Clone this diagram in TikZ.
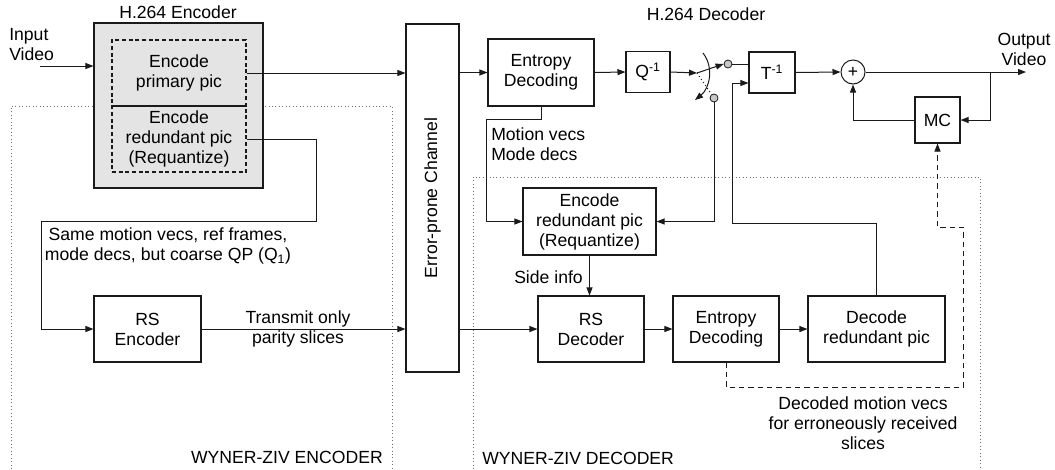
\documentclass[tikz,border=0pt]{standalone}
\usepackage{fontspec}
\usepackage{graphicx}
\setmainfont{Liberation Sans}
\usetikzlibrary{arrows.meta}
\newlength\pxu \setlength\pxu{0.75pt}
\definecolor{linec}{HTML}{1A1A1A}
\definecolor{boxgray}{HTML}{E4E4E4}
\definecolor{circgray}{HTML}{C8C8C8}
\definecolor{dotc}{HTML}{707070}
\begin{document}
\begin{tikzpicture}[x=0.75pt,y=-0.75pt,
  font=\fontsize{13.2}{15}\selectfont,
  bx/.style={draw=linec, line width=0.8pt, inner sep=0pt, align=center},
  dbx/.style={draw=linec, line width=0.8pt, dash pattern=on 3pt off 2pt, inner sep=0pt, align=center},
  arr/.style={draw=linec, line width=0.75pt, -{Triangle[length=6pt,width=4.5pt]}},
  ln/.style={draw=linec, line width=0.75pt},
  lbl/.style={inner sep=0pt, align=center},
  region/.style={draw=dotc, line width=0.6pt, dotted}]
\useasboundingbox (0,0) rectangle (1055,469);

% Wyner-Ziv regions
\draw[region] (11,469) -- (11,106) -- (392,106) -- (392,469);
\draw[region] (473,469) -- (473,177) -- (980,177) -- (980,469);

% H.264 encoder
\node[bx, fill=boxgray, minimum width=169\pxu, minimum height=165\pxu] (enc) at (178.5,105.5) {};
\node[dbx, minimum width=134\pxu, minimum height=66\pxu] (prim) at (179,73) {Encode\\primary pic};
\node[dbx, minimum width=134\pxu, minimum height=66\pxu] (red) at (179,139) {Encode\\redundant pic\\(Requantize)};
\node[lbl] (enclbl) at (178,12) {H.264 Encoder};

\node[bx, minimum width=107\pxu, minimum height=66\pxu] (rsenc) at (147.5,329) {RS\\Encoder};
\node[bx, minimum width=53\pxu, minimum height=348\pxu] (chan) at (432.5,198) {\rotatebox{90}{Error-prone Channel}};

% H.264 decoder
\node[lbl] (declbl) at (706,14) {H.264 Decoder};
\node[bx, minimum width=106\pxu, minimum height=67\pxu] (entt) at (541,72.5) {Entropy\\Decoding};
\node[bx, minimum width=44\pxu, minimum height=41\pxu] (q) at (648,72) {Q\textsuperscript{-1}};
\node[bx, minimum width=46\pxu, minimum height=41\pxu] (t) at (772,72.5) {T\textsuperscript{-1}};
\node[draw=linec, line width=0.75pt, circle, fill=white, minimum size=24\pxu, inner sep=0pt] (sum) at (853,72) {+};
\node[bx, minimum width=45\pxu, minimum height=46\pxu] (mc) at (937.5,120) {MC};
\node[draw=linec, line width=0.6pt, circle, fill=circgray, minimum size=8\pxu, inner sep=0pt] (up) at (728,64) {};
\node[draw=linec, line width=0.6pt, circle, fill=circgray, minimum size=8\pxu, inner sep=0pt] (lo) at (714,98) {};
\coordinate (piv) at (697,73);

% Wyner-Ziv decoder
\node[bx, minimum width=133\pxu, minimum height=67\pxu] (encd) at (589.5,221.5) {Encode\\redundant pic\\(Requantize)};
\node[bx, minimum width=106\pxu, minimum height=66\pxu] (rsdec) at (591,329) {RS\\Decoder};
\node[bx, minimum width=106\pxu, minimum height=66\pxu] (entb) at (726,329) {Entropy\\Decoding};
\node[bx, minimum width=137\pxu, minimum height=66\pxu] (decr) at (876.5,329) {Decode\\redundant pic};

% texts
\node[lbl, anchor=west, align=left] (inlbl) at (9,45) {Input\\Video};
\node[lbl] (outlbl) at (1024,49) {Output\\Video};
\node[lbl] (samelbl) at (168,246) {Same motion vecs, ref frames,\\mode decs, but coarse QP (Q\textsubscript{1})};
\node[lbl] (txlbl) at (298,329) {Transmit only\\parity slices};
\node[lbl, anchor=west, align=left] (mvlbl) at (491,144) {Motion vecs\\Mode decs};
\node[lbl, anchor=east] (silbl) at (583,277) {Side info};
\node[lbl] (dmlbl) at (863,423) {Decoded motion vecs\\for erroneously received\\slices};
\node[lbl, anchor=east] (wzelbl) at (383,457) {WYNER-ZIV ENCODER};
\node[lbl, anchor=west] (wzdlbl) at (482,458) {WYNER-ZIV DECODER};

% coordinates
\coordinate (inp) at (40,66);
\coordinate (r1) at (316,139);
\coordinate (r2) at (316,221);
\coordinate (r3) at (41,221);
\coordinate (m1) at (541,119);
\coordinate (m2) at (486,119);
\coordinate (tj) at (732,223);
\coordinate (tin) at (732,83);
\coordinate (out) at (1026,72);
\coordinate (br) at (990,72);
\coordinate (d1) at (726,387);
\coordinate (d2) at (963,227);

% connectors
\draw[arr] (inp) -- (inp -| enc.west);
\draw[arr] (prim.east) -- (prim.east -| chan.west);
\draw[ln] (red.east) -- (r1) -- (r2) -- (r3);
\draw[arr] (r3) |- (rsenc.west);
\draw[arr] (rsenc.east) -- (rsenc.east -| chan.west);
\draw[arr] (chan.east |- entt.west) -- (entt.west);
\draw[arr] (chan.east |- rsdec.west) -- (rsdec.west);
\draw[arr] (entt.east) -- (q.west);
\draw[arr] (q.east) -- (piv);
\draw[arr] (piv) -- (up.west);
\draw[ln, dotted] (piv) -- (lo);
\draw[arr] (703,53) .. controls (714,67) and (710,88) .. (695,100);
\draw[ln] (up.east) -- (up.east -| t.west);
\draw[arr] (lo.south) |- (encd.east);
\draw[ln] (decr.north) |- (tj) -- (tin);
\draw[arr] (tin) -- (tin -| t.west);
\draw[arr] (t.east) -- (sum.west);
\draw[arr] (sum.east) -- (out);
\draw[arr] (br) |- (mc.east);
\draw[arr] (mc.west) -| (sum.south);
\draw[ln] (entt.south) -- (m1) -- (m2);
\draw[arr] (m2) |- (encd.west);
\draw[arr] (encd.south) -- (encd.south |- rsdec.north);
\draw[arr] (rsdec.east) -- (entb.west);
\draw[arr] (entb.east) -- (decr.west);
\draw[arr, dash pattern=on 4pt off 3pt] (entb.south) -- (d1) -| (d2) -| (mc.south);
\end{tikzpicture}
\end{document}
